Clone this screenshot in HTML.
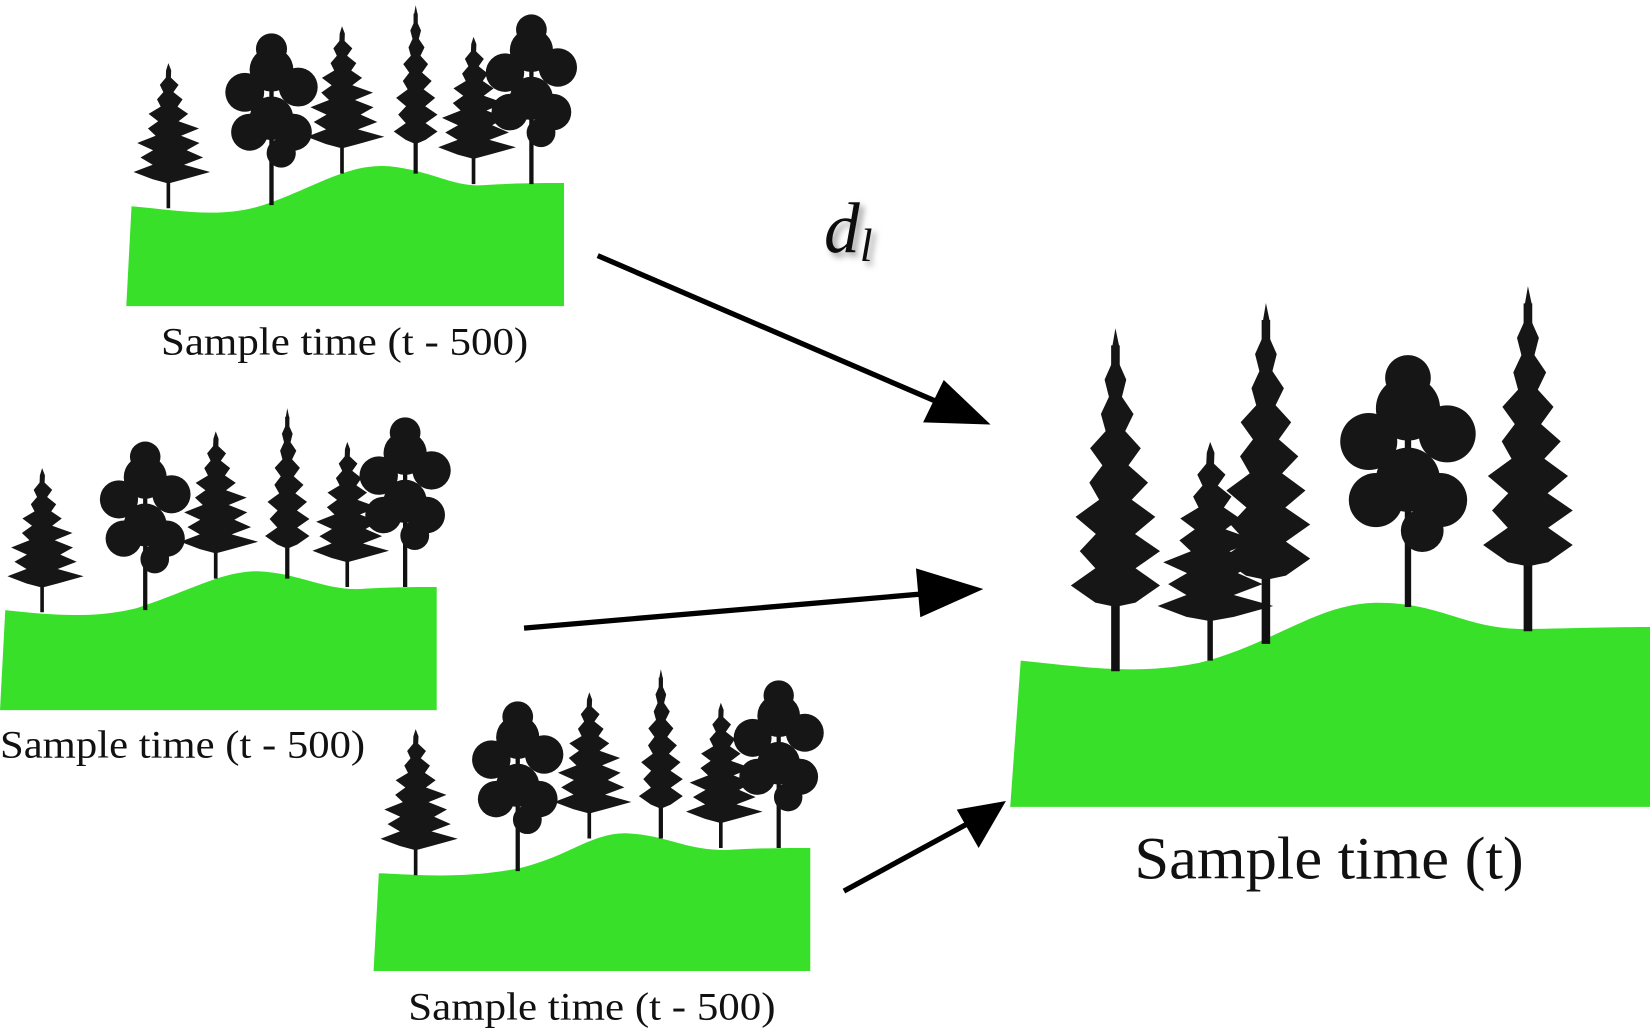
<!DOCTYPE html>
<html><head><meta charset="utf-8"><style>
html,body{margin:0;padding:0;background:#fff;}
svg{display:block;}
text{font-family:"Liberation Serif",serif;fill:#111;}
</style></head><body>
<svg width="1650" height="1031" viewBox="0 0 1568 980" preserveAspectRatio="none" xmlns="http://www.w3.org/2000/svg">
<defs>
<filter id="sh" x="-20%" y="-20%" width="150%" height="150%"><feDropShadow dx="4" dy="4" stdDeviation="3" flood-color="#888" flood-opacity="0.8"/></filter>
</defs>
<g id="grounds">
<path fill="#39e02a" d="M125,196 C170,200 210,208 250,195 C300,178 330,155 370,158 C410,162 430,178 460,176 C490,174 515,174 536,174 L536,291 L120,291 Z"/>
<path fill="#39e02a" d="M5,580 C50,585 90,588 130,578 C180,562 210,543 245,543 C285,545 305,560 340,560 C370,558 395,558 415,558 L415,675 L0,675 Z"/>
<path fill="#39e02a" d="M360,830 C400,832 440,835 490,826 C540,815 560,792 595,792 C635,794 650,808 690,808 C720,806 750,806 770,806 L770,923 L355,923 Z"/>
<path fill="#39e02a" d="M970,628 C1030,634 1080,642 1140,630 C1210,612 1250,575 1305,573 C1370,572 1390,598 1450,598 C1500,597 1540,596 1568,596 L1568,767 L960,767 Z"/>
</g>
<g id="trees"></g>
<g id="arrows" fill="#000" stroke="#000">
<line x1="568" y1="243" x2="900" y2="386" stroke-width="5"/>
<polygon points="940,403 878,401 897,362"/>
<line x1="498" y1="597" x2="895" y2="563" stroke-width="5"/>
<polygon points="933,560 875,586 871,541"/>
<line x1="802" y1="847" x2="925" y2="780" stroke-width="5"/>
<polygon points="955,762 930,805 910,770"/>
</g>
<text x="153" y="337" font-size="37" textLength="349" lengthAdjust="spacingAndGlyphs">Sample time (t - 500)</text>
<text x="0" y="720" font-size="37" textLength="347" lengthAdjust="spacingAndGlyphs">Sample time (t - 500)</text>
<text x="388" y="969" font-size="37" textLength="349" lengthAdjust="spacingAndGlyphs">Sample time (t - 500)</text>
<text x="1078" y="835" font-size="57" textLength="370" lengthAdjust="spacingAndGlyphs">Sample time (t)</text>
<text x="783" y="240" font-size="68" font-style="italic" filter="url(#sh)">d<tspan font-size="44" dy="8">l</tspan></text>
</svg>
<script>
const treeKinds=['c','b','c','t','c','b'];
const treeX1=[160,258,325,395,450,505], treeTop1=[60,30,25,5,35,12], treeBase1=[198,195,165,165,175,175];
const treeX2=[40,138,205,273,330,385], treeTop2=[445,418,410,388,420,395], treeBase2=[582,580,550,550,558,558];
const treeX3=[395,492,560,628,685,740], treeTop3=[693,665,658,636,668,645], treeBase3=[832,828,797,797,806,806];
const treeKinds4=['t','c','t','b','t'];
const treeX4=[1060,1150,1203,1338,1452], treeTop4=[312,420,288,335,272], treeBase4=[638,628,612,577,600];
const g=document.getElementById('trees');
const NS='http://www.w3.org/2000/svg';
function add(tag,attrs,name){const e=document.createElementNS(NS,tag);for(const k in attrs)e.setAttribute(k,attrs[k]);


g.appendChild(e);return e;}
function tree(kind,x,top,base,name){
  const h=base-top;
  add('line',{x1:x,y1:top+h*0.05,x2:x,y2:base,stroke:'#111','stroke-width':Math.max(3,h*0.025)},name+'-trunk');
  if(kind==='b'){
    const w=h*0.28;
    const cl=[[0,0.22,0.45],[-0.55,0.35,0.4],[0.55,0.32,0.4],[-0.45,0.58,0.38],[0.45,0.58,0.38],[0,0.5,0.45],[0,0.1,0.32],[0.2,0.7,0.3]];
    cl.forEach(c=>{add('circle',{cx:x+c[0]*w,cy:top+c[1]*h,r:c[2]*w,fill:'#161616'},name+'-crown');});
  } else {
    const maxW = kind==='t'? h*0.13 : h*0.24;
    const end = 0.8;
    let pts=[[x,top]];const n=16;const L=[],R=[];
    for(let i=1;i<=n;i++){const f=i/n;const y=top+f*h*end;const w=maxW*Math.min(1,f*1.3)*(i%2?1:0.45);
      L.push([x-w*(i%4==1?0.8:1),y]);R.push([x+w*(kind==='c'&&i%3==0?1.2:1),y]);}
    pts=pts.concat(R,[[x,top+h*end+4]],L.reverse());
    add('polygon',{points:pts.map(p=>p[0].toFixed(1)+','+p[1].toFixed(1)).join(' '),fill:'#161616'},name+'-crown');
  }
}
for(let i=0;i<6;i++){tree(treeKinds[i],treeX1[i],treeTop1[i],treeBase1[i],'tree-p1-'+i);
tree(treeKinds[i],treeX2[i],treeTop2[i],treeBase2[i],'tree-p2-'+i);
tree(treeKinds[i],treeX3[i],treeTop3[i],treeBase3[i],'tree-p3-'+i);}
for(let i=0;i<5;i++)tree(treeKinds4[i],treeX4[i],treeTop4[i],treeBase4[i],'tree-p4-'+i);
</script>
</body></html>
